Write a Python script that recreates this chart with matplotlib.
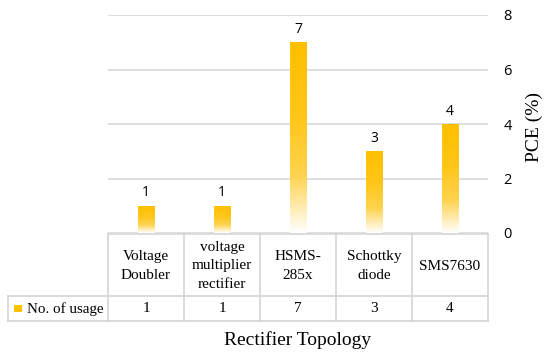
import matplotlib
matplotlib.use("Agg")
import matplotlib.pyplot as plt
import numpy as np
from matplotlib.colors import LinearSegmentedColormap
from matplotlib.patches import Rectangle

categories = ["Voltage\nDoubler", "voltage\nmultiplier\nrectifier", "HSMS-\n285x", "Schottky\ndiode", "SMS7630"]
values = [1, 1, 7, 3, 4]
series_name = "No. of usage"
yticks = [0, 2, 4, 6, 8]
ylabel = "PCE (%)"
xlabel = "Rectifier Topology"

W, H = 550, 354
fig = plt.figure(figsize=(W / 100, H / 100), dpi=100)
serif = ["Liberation Serif", "DejaVu Serif"]
sans = ["Open Sans", "DejaVu Sans"]

ax = fig.add_axes([108 / W, 1 - 233 / H, 380 / W, 218 / H])
n = len(categories)
x = np.arange(n)
ax.set_xlim(-0.5, n - 0.5)
ax.set_ylim(0, 8)

cmap = LinearSegmentedColormap.from_list(
    "g", [(0.0, "#ffffff"), (0.3, "#ffd34f"), (0.6, "#ffc61a"), (1.0, "#ffc000")])
grad = np.linspace(0, 1, 256).reshape(-1, 1)
bw = 0.22
bars = ax.bar(x, values, width=bw, color="none", edgecolor="none", zorder=3)
for b, v in zip(bars, values):
    x0, w = b.get_x(), b.get_width()
    im = ax.imshow(grad, cmap=cmap, origin="lower", aspect="auto",
                   extent=(x0, x0 + w, 0, v), zorder=3, interpolation="bicubic")
    im.set_clip_path(b)
    ax.text(x0 + w / 2, v + 0.2, str(v), ha="center", va="bottom",
            fontsize=10, family=sans, color="#000000")

ax.set_xlim(-0.5, n - 0.5)
ax.set_ylim(0, 8)
ax.set_yticks(yticks)
ax.yaxis.tick_right()
ax.tick_params(axis="y", length=0, pad=11, labelsize=10.5)
for t in ax.get_yticklabels():
    t.set_family(sans)
ax.set_xticks([])
for s in ax.spines.values():
    s.set_visible(False)
ax.grid(axis="y", color="#d9d9d9", linewidth=1.2, zorder=0)
ax.set_axisbelow(True)
fig.text(534 / W, 1 - 127 / H, ylabel, rotation=90, ha="center", va="center",
         fontsize=14, family=serif)

# table axes
top_px, mid_px, bot_px = 234, 296, 321
tax = fig.add_axes([8 / W, 1 - bot_px / H, 480 / W, (bot_px - top_px) / H])
xl = -0.5 - 100 / 76
tax.set_xlim(xl, n - 0.5)
tax.set_ylim(bot_px, top_px)
tax.axis("off")
lc = "#d4d4d4"
lw = 1.2
tax.plot([-0.5, n - 0.5], [top_px, top_px], color=lc, lw=lw, clip_on=False)
tax.plot([xl, n - 0.5], [mid_px, mid_px], color=lc, lw=lw, clip_on=False)
tax.plot([xl, n - 0.5], [bot_px, bot_px], color=lc, lw=lw, clip_on=False)
for xv in np.arange(n + 1) - 0.5:
    tax.plot([xv, xv], [top_px, bot_px], color=lc, lw=lw, clip_on=False)
tax.plot([xl, xl], [mid_px, bot_px], color=lc, lw=lw, clip_on=False)
for i, (c, v) in enumerate(zip(categories, values)):
    tax.text(i, (top_px + mid_px) / 2 + 1, c, ha="center", va="center",
             fontsize=11, family=serif, linespacing=1.55)
    tax.text(i, (mid_px + bot_px) / 2 + 0.5, str(v), ha="center", va="center",
             fontsize=11, family=serif)
px = 76.0
tax.add_patch(Rectangle((xl + 6 / px, 304.5), 8 / px, 7, color="#ffc000", lw=0, clip_on=False))
tax.text(xl + 19 / px, (mid_px + bot_px) / 2 + 0.5, series_name, ha="left", va="center",
         fontsize=10.8, family=serif)

fig.text(298 / W, 1 - 340 / H, xlabel, ha="center", va="center", fontsize=14, family=serif)

fig.savefig("out.png", dpi=100)
